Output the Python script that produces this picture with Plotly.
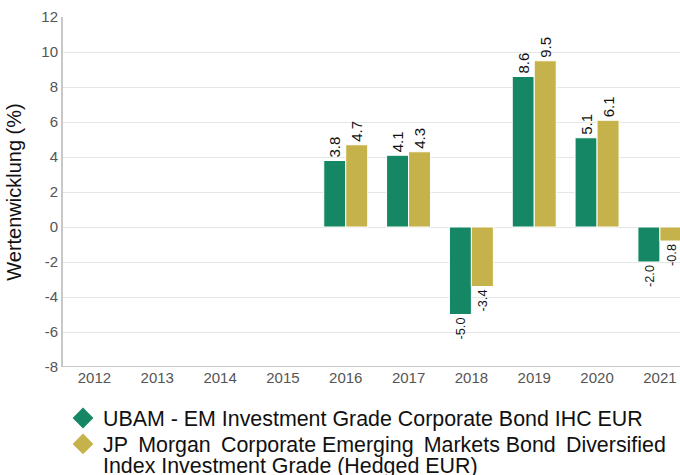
import plotly.graph_objects as go

years = ["2012", "2013", "2014", "2015", "2016", "2017", "2018", "2019", "2020", "2021"]
fund = [None, None, None, None, 3.8, 4.1, -5.0, 8.6, 5.1, -2.0]
index = [None, None, None, None, 4.7, 4.3, -3.4, 9.5, 6.1, -0.8]
y_ticks = [-8, -6, -4, -2, 0, 2, 4, 6, 8, 10, 12]
ts = "\u2009"
fund_name = "UBAM - EM Investment Grade Corporate Bond IHC EUR"
index_name_1 = ("JP" + ts + " Morgan" + ts + " Corporate Emerging" + ts + " Markets Bond"
                + ts + " Diversified")
index_name_2 = "Index Investment Grade (Hedged EUR)"
index_name = index_name_1 + " " + index_name_2
green = "#158765"
gold = "#c6b24a"
FONT = "Liberation Sans, Arial, sans-serif"
LEG_SIZE = 21.4

def labels(vals):
    return ["" if v is None else f"{v:.1f}" for v in vals]

fig = go.Figure()
for name, vals, col in [(fund_name, fund, green), (index_name, index, gold)]:
    fig.add_trace(go.Bar(
        x=years, y=vals, name=name, marker=dict(color=col, line=dict(color="white", width=1)),
        text=labels(vals), textposition="outside", textangle=-90,
        textfont=dict(family=FONT, size=15, color="#111"),
        cliponaxis=False, showlegend=False,
    ))

# legend entries (diamond symbols); the long index name is split across two rows
for name, col, leg in [(fund_name, green, "legend"), (index_name_1, gold, "legend2"),
                       (index_name_2, "rgba(0,0,0,0)", "legend3")]:
    fig.add_trace(go.Scatter(
        x=[None], y=[None], mode="markers", name=name, legend=leg,
        marker=dict(symbol="diamond", size=22, color=col),
    ))

def leg(yc):
    return dict(orientation="v", x=0.0, y=yc, xanchor="left", yanchor="middle",
                font=dict(size=LEG_SIZE, color="#111"), itemsizing="trace",
                bgcolor="rgba(0,0,0,0)")

fig.update_layout(
    width=680, height=475,
    margin=dict(l=63, r=0, t=17, b=108, autoexpand=False),
    paper_bgcolor="white", plot_bgcolor="white",
    barmode="group", bargap=0.3, bargroupgap=0,
    font=dict(family=FONT, color="#111"),
    legend=leg(-0.146), legend2=leg(-0.22), legend3=leg(-0.279),
    xaxis=dict(
        type="category", range=[-0.5, 9.32], showgrid=False,
        tickfont=dict(size=15, color="#555"), ticks="", showline=False,
    ),
    yaxis=dict(
        range=[-8, 12], tickvals=y_ticks, ticktext=[str(v) for v in y_ticks],
        showgrid=True, gridcolor="#e6e6e6", gridwidth=1,
        zeroline=False, showline=True, linecolor="#c8c8c8", linewidth=2,
        tickfont=dict(size=15, color="#555"), ticks="", ticklen=0,
        title=dict(text="Wertenwicklung (%)", font=dict(size=20, color="#111"), standoff=14),
    ),
)
fig.add_shape(type="line", xref="paper", yref="y", x0=0, x1=1, y0=-8, y1=-8,
              line=dict(color="#c8c8c8", width=2))
fig.write_html(
    "out.html",
    config={"displayModeBar": False},
    post_script="document.body.style.margin='0';document.body.style.overflow='hidden';",
)
